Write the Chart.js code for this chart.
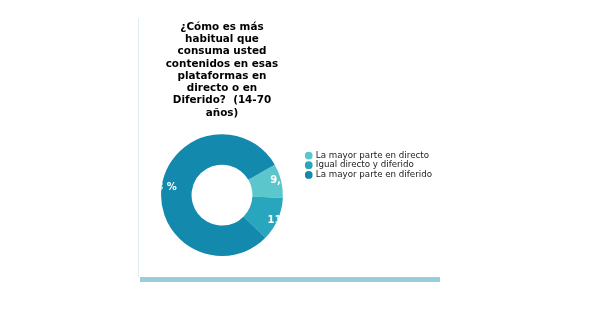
<!DOCTYPE html>
<html>
<head>
<meta charset="utf-8">
<script src="https://cdn.jsdelivr.net/npm/chart.js@4.4.0/dist/chart.umd.min.js"></script>
<style>
  html, body { margin: 0; padding: 0; background: #ffffff; }
  body { width: 604px; height: 327px; position: relative; overflow: hidden; }
  #card { position: absolute; left: 139px; top: 0px; width: 305px; height: 277px; }
  #edge { position: absolute; left: 138px; top: 18px; width: 1px; height: 259px; background: #dfeef2; }
  #wrap { position: absolute; left: 0; top: 0; width: 305px; height: 270px; }
  #bar { position: absolute; left: 140px; top: 277px; width: 300px; height: 5px; background: #96cedc; }
</style>
</head>
<body>
<div id="edge"></div>
<div id="card"><div id="wrap"><canvas id="c"></canvas></div></div>
<div id="bar"></div>
<script>
const titleLines = ["¿Cómo es más", "habitual que", "consuma usted", "contenidos en esas", "plataformas en", "directo o en", "Diferido?  (14-70", "años)"];
const categories = ["La mayor parte en directo", "Igual directo y diferido", "La mayor parte en diferido"];
const values = [9.1, 11.6, 79.3];
const colors = ["#5bc6cb", "#27a6be", "#1389ad"];

const sliceLabels = {
  id: 'sliceLabels',
  afterDatasetsDraw(chart) {
    const ctx = chart.ctx;
    const meta = chart.getDatasetMeta(0);
    ctx.save();
    meta.data.forEach((arc, i) => {
      const p = arc.getProps(['x', 'y', 'startAngle', 'endAngle', 'outerRadius'], true);
      const mid = (p.startAngle + p.endAngle) / 2;
      const cosA = Math.cos(mid), sinA = Math.sin(mid);
      const tx = p.x + cosA * 47.5 + 2;
      const ty = p.y + sinA * 62;
      ctx.save();
      ctx.beginPath();
      ctx.arc(p.x, p.y, p.outerRadius, 0, Math.PI * 2);
      ctx.clip();
      ctx.font = "bold 10px 'DejaVu Sans'";
      ctx.fillStyle = '#ffffff';
      ctx.textBaseline = 'middle';
      ctx.textAlign = cosA >= 0 ? 'left' : 'right';
      ctx.fillText(values[i].toFixed(1).replace('.', ',') + ' %', tx, ty);
      ctx.restore();
    });
    ctx.restore();
  }
};

new Chart(document.getElementById('c'), {
  type: 'doughnut',
  data: {
    labels: categories,
    datasets: [{
      data: values,
      backgroundColor: colors,
      borderWidth: 0,
      hoverOffset: 0
    }]
  },
  options: {
    responsive: true,
    maintainAspectRatio: false,
    animation: false,
    cutout: '50%',
    rotation: 60,
    layout: { padding: { left: 0, right: 2, top: 0, bottom: 14 } },
    plugins: {
      tooltip: { enabled: false },
      title: {
        display: true,
        text: titleLines,
        fullSize: false,
        color: '#000000',
        font: { family: "'DejaVu Sans'", size: 10.4, weight: 'bold', lineHeight: 1.18 },
        padding: { top: 21, bottom: 15 }
      },
      legend: {
        display: true,
        position: 'right',
        align: 'start',
        fullSize: false,
        title: { display: true, text: '', font: { size: 1, lineHeight: 1 }, padding: { top: 15, bottom: 0 } },
        labels: {
          usePointStyle: true,
          pointStyle: 'circle',
          boxWidth: 5.5,
          boxHeight: 5.5,
          padding: 1,
          color: '#222222',
          font: { family: "'DejaVu Sans'", size: 8.7 }
        }
      }
    }
  },
  plugins: [sliceLabels]
});
</script>
</body>
</html>
